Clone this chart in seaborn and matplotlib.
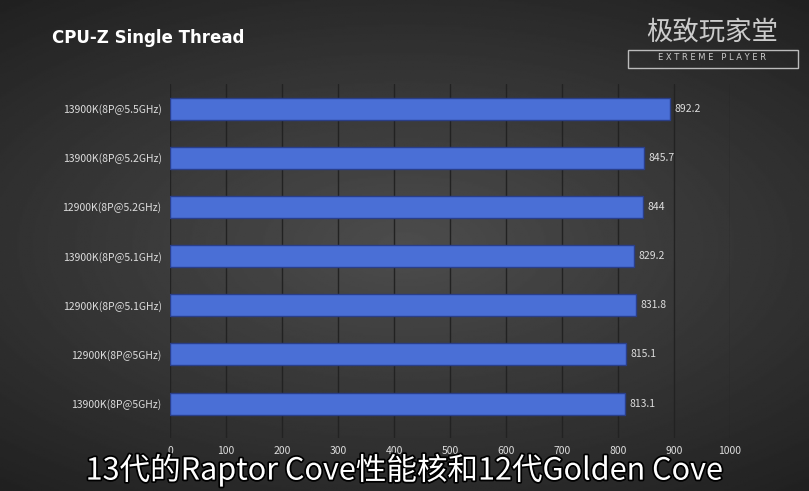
import numpy as np
import pandas as pd
import matplotlib.pyplot as plt
import matplotlib.patheffects as pe
import seaborn as sns

# Data
cpus = ['13900K(8P@5.5GHz)', '13900K(8P@5.2GHz)', '12900K(8P@5.2GHz)', '13900K(8P@5.1GHz)',
        '12900K(8P@5.1GHz)', '12900K(8P@5GHz)', '13900K(8P@5GHz)']
scores = [892.2, 845.7, 844, 829.2, 831.8, 815.1, 813.1]
score_labels = ['892.2', '845.7', '844', '829.2', '831.8', '815.1', '813.1']

df = pd.DataFrame({'cpu': cpus, 'score': scores})

sns.set_style('dark')
plt.rcParams['font.family'] = ['Noto Sans CJK SC', 'DejaVu Sans']

fig = plt.figure(figsize=(8.09, 4.91), dpi=100)

# radial gradient background
bg = fig.add_axes([0, 0, 1, 1], zorder=0)
yy, xx = np.mgrid[-1:1:300j, -1:1:500j]
r = np.sqrt((xx * 0.9) ** 2 + (yy * 1.1) ** 2)
bg.imshow(0.30 - 0.17 * np.clip(r, 0, 1.4) / 1.4, cmap='gray', vmin=0, vmax=1,
          aspect='auto', extent=[0, 1, 0, 1])
bg.axis('off')

ax = fig.add_axes([170 / 809, 1 - 438 / 491, 560 / 809, 354 / 491], zorder=1)
ax.patch.set_alpha(0)
sns.barplot(data=df, x='score', y='cpu', color='#4a6fd6', width=0.45,
            edgecolor='#2a3f8a', linewidth=1, saturation=1, ax=ax)
ax.set_xlim(0, 1000)
ax.set_ylim(6.7, -0.5)
ax.set_xticks(range(0, 1001, 100))
ax.grid(axis='x', color='#222222', linewidth=1)
ax.grid(axis='y', visible=False)
ax.set_axisbelow(True)
for s in ax.spines.values():
    s.set_visible(False)
ax.tick_params(colors='#dddddd', labelsize=7.5, length=0, pad=6)
ax.set_xlabel('')
ax.set_ylabel('')
for i, (v, lab) in enumerate(zip(scores, score_labels)):
    ax.text(v + 8, i, lab, color='#dddddd', fontsize=7.5, va='center')

fig.text(52 / 809, 1 - 38 / 491, 'CPU-Z Single Thread', color='white', fontsize=12,
         fontweight='bold', va='center', family='DejaVu Sans')

# watermark
fig.text(712 / 809, 1 - 32 / 491, '极致玩家堂', color='#cccccc', fontsize=19, ha='center', va='center')
fig.text(712 / 809, 1 - 58 / 491, 'E X T R E M E   P L A Y E R', color='#cccccc', fontsize=6,
         ha='center', va='center', family='DejaVu Sans')
bg.add_patch(plt.Rectangle((628 / 809, 1 - 68 / 491), 170 / 809, 18 / 491, fill=False,
                           edgecolor='#bbbbbb', linewidth=1))

fig.text(404 / 809, 1 - 470 / 491, '13代的Raptor Cove性能核和12代Golden Cove', color='white',
         fontsize=22, ha='center', va='center',
         path_effects=[pe.withStroke(linewidth=2.5, foreground='black')])

fig.savefig('out.png', dpi=100)
